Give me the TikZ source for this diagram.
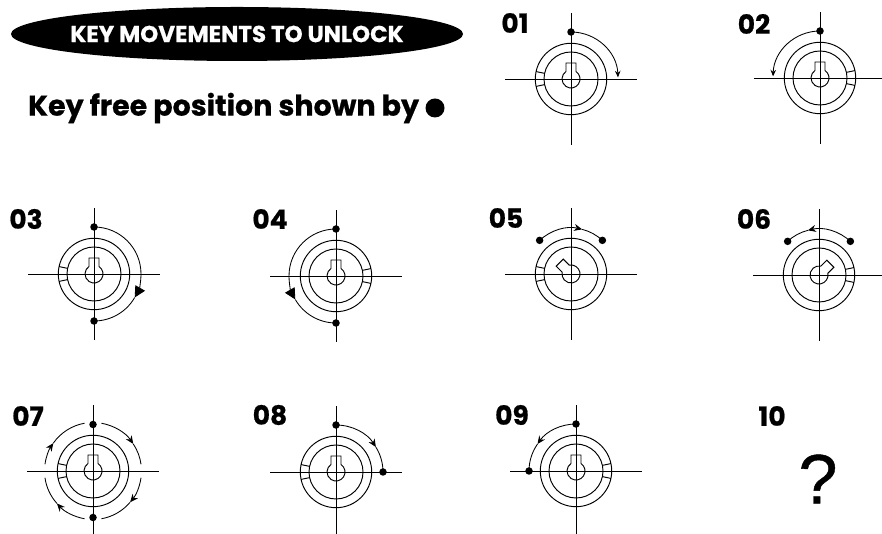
\documentclass[tikz,border=0pt]{standalone}
\usepackage{fontspec}
\setmainfont{Poppins}[BoldFeatures={FakeBold=0.7}]
\newfontfamily\qmarkfont{Liberation Sans}[FakeBold=0.6]
\usetikzlibrary{arrows.meta, shapes.geometric, calc}

\tikzset{
  pics/lockface/.style 2 args={code={
    \draw[thinline] (-66,0) -- (66,0);
    \draw[thinline] (0,-66) -- (0,66);
    \draw[thinline] (0,0) circle[radius=35.7];
    \draw[thinline] (0,0) circle[radius=27];
    % notches between the rings
    \draw[thinline,rotate=#1] (168:27) -- (168:35.7);
    \draw[thinline,rotate=#1] (192:27) -- (192:35.7);
    % key slot
    \draw[thinline,rotate=#2] (-5,7.5) -- (-5,16) -- (5,16) -- (5,7.5)
      arc[start angle=56.3, end angle=-236.3, radius=9];
  }},
  thinline/.style={line width=0.95pt, black},
  swing/.style={line width=0.85pt, black},
  keydot/.style={circle, fill=black, inner sep=0pt, minimum size=7.5pt},
  numlabel/.style={font=\fontsize{26.5}{28}\selectfont\bfseries, inner sep=0pt},
  endtip/.style={swing, -{Stealth[length=6.5pt, width=5.5pt]}},
  midtip/.style={swing, -{Stealth[length=8pt, width=7pt]}},
  bigtip/.style={swing, -{Triangle[length=11pt, width=11pt]}},
}

\begin{document}
\begin{tikzpicture}[x=1pt, y=1pt]
  \useasboundingbox (0,0) rectangle (882,534);

  % Heading
  \node[ellipse, fill=black, inner sep=0pt, minimum width=452pt,
        minimum height=54pt] (banner) at (237,500) {};
  \node[text=white, inner sep=0pt, font=\fontsize{23}{25}\selectfont\bfseries]
        (bannertext) at (banner) {KEY MOVEMENTS TO UNLOCK};
  \node[anchor=west, inner sep=0pt, font=\fontsize{28.5}{31}\selectfont\bfseries]
        (freenote) at (28,426) {Key free position shown by};
  \node[circle, fill=black, inner sep=0pt, minimum size=19pt] (freedot) at (435,426) {};

  % Locks: number, centre, label position, notch side, key angle
  \foreach \n/\cx/\cy/\lx/\ly/\ring/\key in {
      01/571/455/515/511/0/0, 02/820/456/754/510/180/0,
      03/94/260/26/315/0/0, 04/336/258/270/315/180/0,
      05/571/260/506/316/0/45, 06/819/259/754/315/180/-45,
      07/93/63/28/118/0/0, 08/336/62/270/119/0/0,
      09/576/63/512/119/180/0} {
    \coordinate (c\n) at (\cx,\cy);
    \node[numlabel] (n\n) at (\lx,\ly) {\n};
    \pic at (c\n) {lockface={\ring}{\key}};
  }
  \node[numlabel] (n10) at (772,118) {10};
  \node[font=\qmarkfont\fontsize{70}{74}\selectfont, inner sep=0pt] (qmark) at (818,55) {?};

  % Step 01
  \node[keydot] (a01) at ($(c01)+(90:47)$) {};
  \draw[endtip] (a01.center) arc[start angle=90, end angle=2, radius=47];

  % Step 02
  \node[keydot] (a02) at ($(c02)+(90:47)$) {};
  \draw[endtip] (a02.center) arc[start angle=90, end angle=178, radius=47];

  % Step 03
  \node[keydot] (a03) at ($(c03)+(90:47)$) {};
  \node[keydot] (b03) at ($(c03)+(-90:47)$) {};
  \draw[bigtip] (a03.center) arc[start angle=90, end angle=-30, radius=47];
  \draw[swing] (b03.center) arc[start angle=-90, end angle=-30, radius=47];

  % Step 04
  \node[keydot] (a04) at ($(c04)+(90:47)$) {};
  \node[keydot] (b04) at ($(c04)+(-90:47)$) {};
  \draw[bigtip] (a04.center) arc[start angle=90, end angle=210, radius=47];
  \draw[swing] (b04.center) arc[start angle=270, end angle=210, radius=47];

  % Step 05
  \node[keydot] (a05) at ($(c05)+(133:46)$) {};
  \node[keydot] (b05) at ($(c05)+(47:46)$) {};
  \draw[midtip] (a05.center) arc[start angle=133, end angle=76, radius=46];
  \draw[swing] (b05.center) arc[start angle=47, end angle=76, radius=46];

  % Step 06
  \node[keydot] (a06) at ($(c06)+(47:46)$) {};
  \node[keydot] (b06) at ($(c06)+(133:46)$) {};
  \draw[midtip] (a06.center) arc[start angle=47, end angle=104, radius=46];
  \draw[swing] (b06.center) arc[start angle=133, end angle=104, radius=46];

  % Step 07
  \node[keydot] (a07) at ($(c07)+(90:46.5)$) {};
  \node[keydot] (b07) at ($(c07)+(-90:46.5)$) {};
  \draw[midtip] ($(c07)+(80:48.5)$) arc[start angle=80, end angle=34, radius=48.5];
  \draw[swing] ($(c07)+(8:48.5)$) arc[start angle=8, end angle=34, radius=48.5];
  \draw[midtip] ($(c07)+(-8:48.5)$) arc[start angle=-8, end angle=-40, radius=48.5];
  \draw[swing] ($(c07)+(-80:48.5)$) arc[start angle=-80, end angle=-40, radius=48.5];
  \draw[midtip] ($(c07)+(-100:48.5)$) arc[start angle=-100, end angle=-138, radius=48.5];
  \draw[swing] ($(c07)+(-172:48.5)$) arc[start angle=-172, end angle=-138, radius=48.5];
  \draw[midtip] ($(c07)+(172:48.5)$) arc[start angle=172, end angle=145, radius=48.5];
  \draw[swing] ($(c07)+(100:48.5)$) arc[start angle=100, end angle=145, radius=48.5];

  % Step 08
  \node[keydot] (a08) at ($(c08)+(90:47)$) {};
  \node[keydot] (b08) at ($(c08)+(0:47)$) {};
  \draw[midtip] (a08.center) arc[start angle=90, end angle=32, radius=47];
  \draw[swing] (b08.center) arc[start angle=0, end angle=32, radius=47];

  % Step 09
  \node[keydot] (a09) at ($(c09)+(90:47)$) {};
  \node[keydot] (b09) at ($(c09)+(180:47)$) {};
  \draw[midtip] (a09.center) arc[start angle=90, end angle=145, radius=47];
  \draw[swing] (b09.center) arc[start angle=180, end angle=145, radius=47];
\end{tikzpicture}
\end{document}
